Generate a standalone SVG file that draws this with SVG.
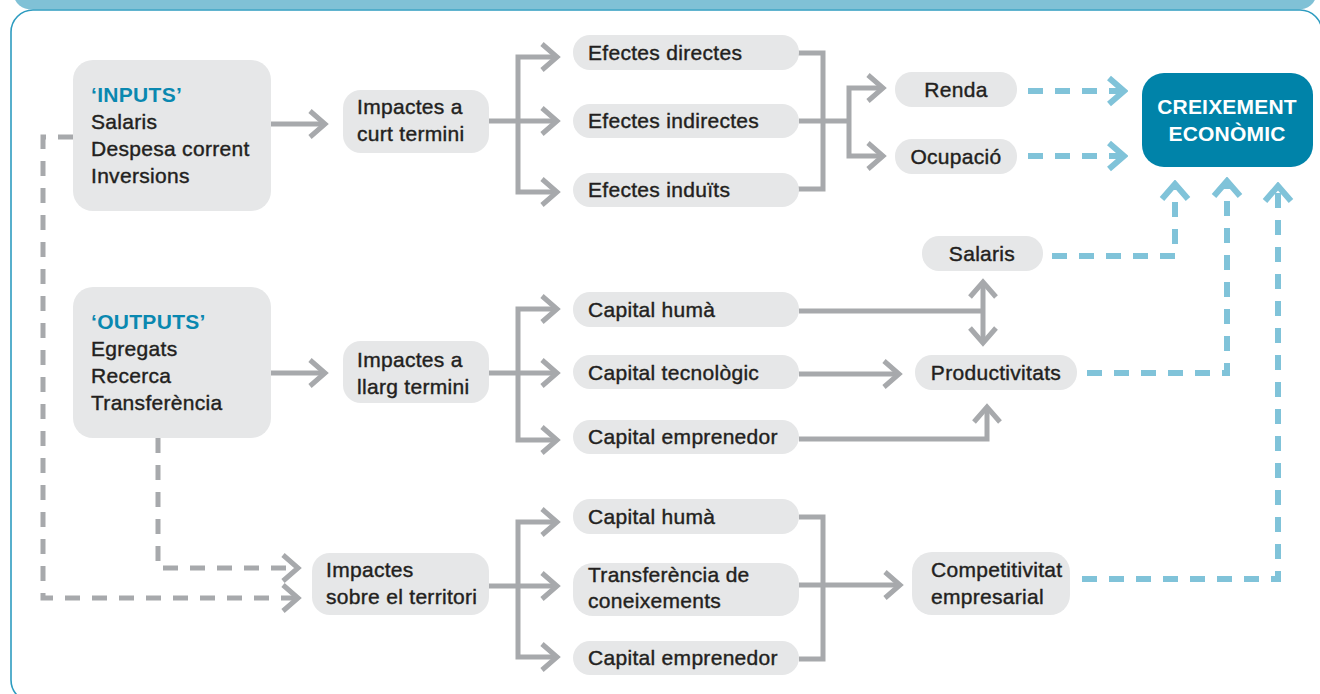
<svg xmlns="http://www.w3.org/2000/svg" width="1320" height="694" viewBox="0 0 1320 694">
<style>
.n{fill:#e6e7e8}
.t{font-family:"Liberation Sans",Arial,Helvetica,sans-serif;font-size:21px;fill:#231f20;letter-spacing:0.3px;stroke:#231f20;stroke-width:0.4px}
.c{text-anchor:middle}
.h{font-weight:bold;fill:#0a88b0;stroke:none}
.w{font-weight:bold;fill:#ffffff;stroke:none;text-anchor:middle;letter-spacing:0.2px}
.g{stroke:#a7a9ac;stroke-width:5;fill:none;stroke-linejoin:miter}
.gd{stroke:#a7a9ac;stroke-width:5;fill:none;stroke-dasharray:15 12}
.b{stroke:#80c3d9;stroke-width:6;fill:none;stroke-dasharray:15 12}
</style>
<defs>
<marker id="ag" markerUnits="userSpaceOnUse" viewBox="-20 -16 24 32" markerWidth="24" markerHeight="32" refX="0" refY="0" orient="auto-start-reverse">
<path d="M -15 -13 L 0 0 L -15 13" fill="none" stroke="#a7a9ac" stroke-width="5" stroke-linejoin="miter"/>
</marker>
<marker id="ab" markerUnits="userSpaceOnUse" viewBox="-20 -16 24 32" markerWidth="24" markerHeight="32" refX="0" refY="0" orient="auto">
<path d="M -15 -13 L 0 0 L -15 13" fill="none" stroke="#80c3d9" stroke-width="6" stroke-linejoin="miter"/>
</marker>
</defs>

<g id="frame">
<rect x="14" y="-20" width="1302" height="29.5" rx="18" fill="#80c1d6"/>
<path d="M 33 702 A 22 22 0 0 1 11 680 V 32 A 22 22 0 0 1 33 10 H 1300 A 22 22 0 0 1 1322 32" fill="none" stroke="#2e9cc0" stroke-width="1.6"/>
</g>

<g id="connectors">
<path class="g" d="M 271 124 H 325" marker-end="url(#ag)"/>
<path class="g" d="M 489 121 H 557" marker-end="url(#ag)"/>
<path class="g" d="M 518 121 V 57 H 557" marker-end="url(#ag)"/>
<path class="g" d="M 518 121 V 192 H 557" marker-end="url(#ag)"/>
<path class="g" d="M 792 53 H 823 V 189 H 797"/>
<path class="g" d="M 799 121 H 849"/>
<path class="g" d="M 849 121 V 88 H 883" marker-end="url(#ag)"/>
<path class="g" d="M 849 121 V 156 H 883" marker-end="url(#ag)"/>

<path class="g" d="M 271 373 H 325" marker-end="url(#ag)"/>
<path class="g" d="M 489 373 H 557" marker-end="url(#ag)"/>
<path class="g" d="M 518 373 V 309 H 557" marker-end="url(#ag)"/>
<path class="g" d="M 518 373 V 440 H 557" marker-end="url(#ag)"/>
<path class="g" d="M 799 311 H 983"/>
<path class="g" d="M 983 282 V 343" marker-start="url(#ag)" marker-end="url(#ag)"/>
<path class="g" d="M 799 374 H 899" marker-end="url(#ag)"/>
<path class="g" d="M 799 439 H 987 V 407" marker-end="url(#ag)"/>

<path class="g" d="M 489 586 H 557" marker-end="url(#ag)"/>
<path class="g" d="M 518 586 V 522 H 557" marker-end="url(#ag)"/>
<path class="g" d="M 518 586 V 657 H 557" marker-end="url(#ag)"/>
<path class="g" d="M 799 517 H 823 V 659 H 799"/>
<path class="g" d="M 799 585 H 900" marker-end="url(#ag)"/>

<path class="gd" d="M 73 137 H 43 V 598 H 298" marker-end="url(#ag)"/>
<path class="gd" d="M 158 438 V 568 H 298" marker-end="url(#ag)"/>

<path class="b" d="M 1028 91 H 1124" marker-end="url(#ab)"/>
<path class="b" d="M 1028 156 H 1124" marker-end="url(#ab)"/>
<path class="b" d="M 1052 256 H 1175 V 184" marker-end="url(#ab)"/>
<path class="b" d="M 1087 373 H 1227 V 181" marker-end="url(#ab)"/>
<path class="b" d="M 1082 579 H 1278 V 186" marker-end="url(#ab)"/>
</g>

<g id="inputs"><rect class="n" x="73" y="60" width="198" height="151" rx="20"/>
<text class="t h" x="91" y="102">‘INPUTS’</text>
<text class="t" x="91" y="129">Salaris</text>
<text class="t" x="91" y="156">Despesa corrent</text>
<text class="t" x="91" y="183">Inversions</text></g>

<g id="curt"><rect class="n" x="343" y="90" width="146" height="63" rx="18"/>
<text class="t" x="357" y="114">Impactes a</text>
<text class="t" x="357" y="141">curt termini</text></g>

<g id="efectes-directes"><rect class="n" x="573" y="35" width="226" height="35" rx="17"/>
<text class="t" x="588" y="60">Efectes directes</text></g>
<g id="efectes-indirectes"><rect class="n" x="573" y="104" width="226" height="34" rx="17"/>
<text class="t" x="588" y="128">Efectes indirectes</text></g>
<g id="efectes-induits"><rect class="n" x="573" y="173" width="226" height="34" rx="17"/>
<text class="t" x="588" y="197">Efectes induïts</text></g>

<g id="renda"><rect class="n" x="895" y="72" width="122" height="35" rx="17"/>
<text class="t c" x="956" y="97">Renda</text></g>
<g id="ocupacio"><rect class="n" x="895" y="139" width="122" height="35" rx="17"/>
<text class="t c" x="956" y="164">Ocupació</text></g>

<g id="creixement"><rect x="1142" y="73" width="171" height="94" rx="22" fill="#0083a9"/>
<text class="t w" x="1227" y="114">CREIXEMENT</text>
<text class="t w" x="1227" y="141">ECONÒMIC</text></g>

<g id="salaris"><rect class="n" x="922" y="236" width="121" height="35" rx="17"/>
<text class="t c" x="982" y="261">Salaris</text></g>

<g id="outputs"><rect class="n" x="73" y="287" width="198" height="151" rx="20"/>
<text class="t h" x="91" y="329">‘OUTPUTS’</text>
<text class="t" x="91" y="356">Egregats</text>
<text class="t" x="91" y="383">Recerca</text>
<text class="t" x="91" y="410">Transferència</text></g>

<g id="llarg"><rect class="n" x="343" y="341" width="146" height="62" rx="18"/>
<text class="t" x="357" y="367">Impactes a</text>
<text class="t" x="357" y="394">llarg termini</text></g>

<g id="capital-huma-1"><rect class="n" x="573" y="292" width="226" height="35" rx="17"/>
<text class="t" x="588" y="317">Capital humà</text></g>
<g id="capital-tecnologic"><rect class="n" x="573" y="355" width="226" height="34" rx="17"/>
<text class="t" x="588" y="380">Capital tecnològic</text></g>
<g id="capital-emprenedor-1"><rect class="n" x="573" y="420" width="226" height="34" rx="17"/>
<text class="t" x="588" y="444">Capital emprenedor</text></g>

<g id="productivitats"><rect class="n" x="915" y="355" width="162" height="35" rx="17"/>
<text class="t c" x="996" y="380">Productivitats</text></g>

<g id="territori"><rect class="n" x="312" y="553" width="177" height="62" rx="18"/>
<text class="t" x="326" y="577">Impactes</text>
<text class="t" x="326" y="604">sobre el territori</text></g>

<g id="capital-huma-2"><rect class="n" x="573" y="499" width="226" height="35" rx="17"/>
<text class="t" x="588" y="524">Capital humà</text></g>
<g id="transferencia"><rect class="n" x="573" y="563" width="226" height="53" rx="20"/>
<text class="t" x="588" y="582">Transferència de</text>
<text class="t" x="588" y="608">coneixements</text></g>
<g id="capital-emprenedor-2"><rect class="n" x="573" y="641" width="226" height="34" rx="17"/>
<text class="t" x="588" y="665">Capital emprenedor</text></g>

<g id="competitivitat"><rect class="n" x="912" y="552" width="158" height="63" rx="20"/>
<text class="t" x="931" y="577">Competitivitat</text>
<text class="t" x="931" y="604">empresarial</text></g>
</svg>
